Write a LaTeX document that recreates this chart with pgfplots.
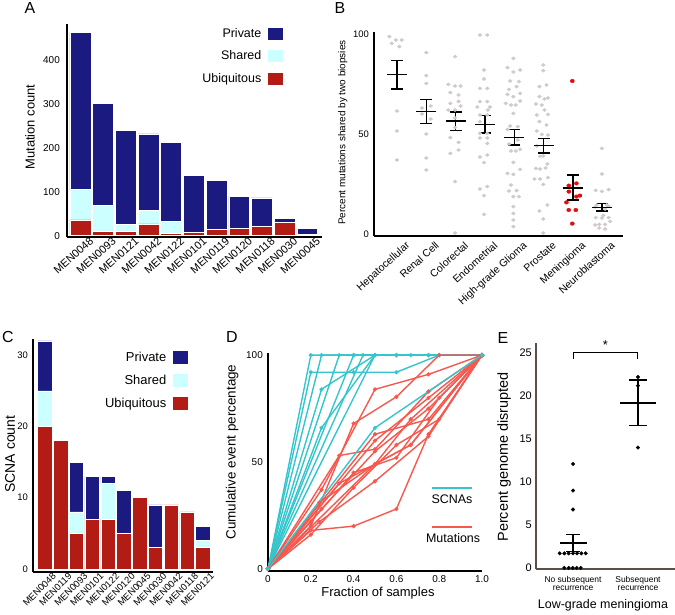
\documentclass[border=0pt]{standalone}
\usepackage{pgfplots}
\pgfplotsset{compat=1.18}
\usepackage{pgfplotstable}
\usepackage{fontspec}
\setmainfont{Liberation Sans}
\definecolor{navyP}{RGB}{27,26,128}
\definecolor{cyanS}{RGB}{204,255,255}
\definecolor{redU}{RGB}{178,28,20}
\definecolor{greyDot}{RGB}{208,202,202}
\definecolor{redDot}{RGB}{228,12,12}
\definecolor{cyanD}{RGB}{54,197,204}
\definecolor{redD}{RGB}{246,88,78}
\definecolor{axisE}{RGB}{90,80,72}
\newcommand{\fs}[1]{\fontsize{#1}{#1}\selectfont}
\pgfplotsset{
  base/.style={
    scale only axis,
    axis x line*=bottom, axis y line*=left,
    axis line style={-, line width=2bp, black},
    major tick length=0pt,
    /pgf/number format/assume math mode=true,
    tick label style={font=\fs{10}},
    yticklabel style={inner sep=0pt, xshift=-5bp},
    label style={font=\fs{13}},
    clip=false,
  },
  dline/.style={line width=1.4bp, mark=*, mark size=1.3bp},
}
% Panel A: ubiquitous, shared, private
\pgfplotstableread{
i u s p
0 36 69 358
1 10 59 232
2 10 16 213
3 27 31 174
4 5 28 179
5 7 0 131
6 14 0 112
7 17 0 73
8 21 0 65
9 30 0 9
10 0 3 13
}\Adata
\pgfplotstableread{
i u s p
0 20 5 7
1 18 0 0
2 5 3 7
3 7 0 6
4 7 5 1
5 5 0 6
6 10 0 0
7 3 0 6
8 9 0 0
9 8 0 0
10 3 1 2
}\Cdata
\pgfplotstableread{
x y ep em
1 79.6 7.0 7.1
2 61.1 6.0 5.8
3 56.4 4.5 4.8
4 54.6 4.5 4.2
5 48.2 3.9 3.8
6 44.2 3.4 3.8
7 23.0 6.5 6.1
8 13.2 2.0 1.8
}\Bmeans
\begin{document}
\begin{tikzpicture}[x=1bp,y=1bp]
\useasboundingbox (0bp,0bp) rectangle (675bp,615bp);
% ---------------- A
\begin{axis}[base, at={(67bp,378bp)}, anchor=south west, width=255bp, height=213bp,
  ybar stacked, bar width=0.92,
  xmin=-0.59, xmax=10.65, ymin=-3, ymax=482,
  xtick={0,...,10},
  xticklabels={MEN0048,MEN0093,MEN0121,MEN0042,MEN0122,MEN0101,MEN0119,MEN0120,MEN0118,MEN0030,MEN0045},
  xticklabel style={rotate=42, anchor=north east, inner sep=0pt, xshift=7bp, yshift=-5bp, font=\fs{11}},
  ytick={0,100,200,300,400},
  yticklabel style={xshift=-2bp},
  ylabel={Mutation count}, ylabel style={at={(axis description cs:-0.145,0.516)}, anchor=center},
  legend plot pos=right, reverse legend, legend cell align=right,
  legend style={draw=none, fill=none, inner sep=0pt, at={(0.847,0.99)}, anchor=north east, font=\fs{12.5}, row sep=8bp, column sep=5bp},
]
\addplot[fill=redU, draw=white, line width=0.5bp, legend image code/.code={\fill[redU] (0bp,-5.5bp) rectangle (14bp,5.5bp);}] table[x=i,y=u] {\Adata};
\addplot[fill=cyanS, draw=white, line width=0.5bp, legend image code/.code={\fill[cyanS] (0bp,-5.5bp) rectangle (14bp,5.5bp);}] table[x=i,y=s] {\Adata};
\addplot[fill=navyP, draw=white, line width=0.5bp, legend image code/.code={\fill[navyP] (0bp,-5.5bp) rectangle (14bp,5.5bp);}] table[x=i,y=p] {\Adata};
\legend{Ubiquitous,Shared,Private}
\end{axis}
% ---------------- B
\begin{axis}[base, at={(374bp,379bp)}, anchor=south west, width=249bp, height=204bp,
  xmin=0.215, xmax=8.71, ymin=-1, ymax=101,
  axis line style={line width=1.8bp},
  xtick={1,...,8},
  xticklabels={Hepatocellular,Renal Cell,Colorectal,Endometrial,High-grade Glioma,Prostate,Meningioma,Neuroblastoma},
  xticklabel style={rotate=42, anchor=north east, inner sep=0pt, xshift=3bp, yshift=-9bp, font=\fs{10.5}},
  ytick={0,50,100}, yticklabel style={font=\fs{9.5}},
  ylabel={Percent mutations shared by two biopsies},
  ylabel style={font=\fs{10}, at={(axis description cs:-0.125,0.507)}, anchor=center},
]
\addplot[only marks, greyDot, mark=*, mark size=1.6bp, mark options={draw=greyDot, fill=greyDot, xscale=1.2}] coordinates {
(0.74,98.7)(0.96,97)(1.16,97)(0.82,95.3)(1.08,93.7)(1.0,61.5)(1.0,51.5)(1.0,37)
(2,90.7)(2,79.2)(2,75.3)(1.85,63)(2.15,64)(2.15,57.5)(2,50)(2,38)(2,32)(1.85,60)
(2.98,88.7)(2.75,74.8)(2.98,74)(3.17,74)(2.82,70.7)(3.1,69.5)(2.82,65.3)(3.1,66.3)(2.75,62)(2.98,62)(3.17,64)(2.98,58)(2.98,53.2)(2.82,48.2)(3.1,45.8)(3.1,42)(2.82,40.3)(2.98,26.2)(2.98,0.5)
(3.83,99.5)(4.08,99.5)(3.97,82)(3.97,77.5)(3.83,72.8)(4.08,72.8)(3.83,66.2)(4.08,66.2)(3.74,63.5)(4.17,63.5)(3.83,59.5)(4.08,59.5)(3.83,56.2)(3.83,50.3)(4.08,50.3)(3.83,48)(4.08,48)(4.08,45.3)(3.83,38.5)(4.08,39.5)(3.97,35.7)(3.83,22.5)(4.08,23.7)(3.97,19.2)(3.97,9.8)(4.1,62)
(4.97,87.8)(4.77,83.2)(5.2,82)(4.97,81)(4.86,76.5)(5.16,76.2)(5.08,73.7)(4.82,72.3)(4.77,69.8)(4.97,68.7)(5.2,70.3)(5.2,66.5)(4.71,65.3)(4.89,64.5)(5.05,64.5)(4.97,60.3)(4.86,54)(5.12,53.7)(4.77,52.3)(4.89,41.5)(5.05,41.5)(5.2,42.3)(4.97,35.8)(4.77,30.3)(4.97,29.8)(5.2,32.3)(4.89,24.5)(4.82,21.5)(5.08,21.7)(4.97,18.7)(5.16,18.7)(4.97,13.7)(4.97,10.3)(4.97,7)(4.97,3.7)(4.82,45)(5.12,47)
(5.99,84.5)(5.99,81.7)(5.86,73.7)(6.1,74.5)(5.86,68.7)(6.15,68)(6.03,67.5)(5.74,65)(5.94,64.5)(6.03,62)(6.15,59.8)(5.77,59.5)(5.86,56.2)(6.1,54.5)(5.77,51.5)(6.15,49.5)(5.94,49.8)(5.99,39)(5.88,38.8)(5.74,32.8)(5.88,32.5)(6.07,33)(6.15,28.2)(5.88,27.5)(5.69,27.5)(5.99,24.8)(6.13,14.5)(5.86,11.5)(5.99,7.5)(5.99,0.5)(6.13,35)(5.77,44)
(7.99,42.8)(7.99,30)(7.78,21.8)(7.99,21.3)(8.22,22.2)(7.81,14.5)(8.16,14.5)(7.76,13.5)(8.22,13.8)(7.78,8.2)(8.04,9.3)(8.22,8.2)(7.76,4.5)(7.9,4.8)(8.1,4.8)(8.27,6.3)(7.9,3)(8.1,2.5)(7.99,8)(8.1,12.5)
};
\addplot[only marks, redDot, mark=*, mark size=1.8bp, mark options={draw=redDot, fill=redDot, xscale=1.15}] coordinates {
(6.98,76.5)(6.86,24.2)(7.12,25.3)(6.86,21.2)(7.12,18.7)(7.24,19.2)(6.78,15.8)(6.86,12)(7.1,12)(6.98,5.2)
};
\addplot[only marks, mark=-, mark size=10bp, mark options={line width=1.4bp, draw=black}, black,
  error bars/.cd, y dir=both, y explicit,
  error mark options={rotate=90, mark size=6bp, line width=1.4bp, draw=black},
  error bar style={line width=1.4bp, black}]
  table[x=x, y=y, y error plus=ep, y error minus=em] {\Bmeans};
\end{axis}
% ---------------- C
\begin{axis}[base, at={(33bp,43bp)}, anchor=south west, width=180bp, height=233bp,
  ybar stacked, bar width=0.92,
  axis line style={line width=2.2bp},
  xmin=-0.75, xmax=10.64, ymin=-0.42, ymax=32.26,
  xtick={0,...,10},
  xticklabels={MEN0048,MEN0119,MEN0093,MEN0101,MEN0122,MEN0120,MEN0045,MEN0030,MEN0042,MEN0118,MEN0121},
  xticklabel style={rotate=45, anchor=north east, inner sep=0pt, xshift=5bp, yshift=-5bp, font=\fs{9.5}},
  ytick={0,10,20,30}, yticklabel style={font=\fs{9.5}},
  ylabel={SCNA count}, ylabel style={font=\fs{14}, at={(axis description cs:-0.128,0.506)}, anchor=center},
  legend plot pos=right, reverse legend, legend cell align=right,
  legend style={draw=none, fill=none, inner sep=0pt, at={(0.861,0.953)}, anchor=north east, font=\fs{13}, row sep=8bp, column sep=5bp},
]
\addplot[fill=redU, draw=white, line width=0.5bp, legend image code/.code={\fill[redU] (0bp,-6bp) rectangle (14bp,6bp);}] table[x=i,y=u] {\Cdata};
\addplot[fill=cyanS, draw=white, line width=0.5bp, legend image code/.code={\fill[cyanS] (0bp,-6bp) rectangle (14bp,6bp);}] table[x=i,y=s] {\Cdata};
\addplot[fill=navyP, draw=white, line width=0.5bp, legend image code/.code={\fill[navyP] (0bp,-6bp) rectangle (14bp,6bp);}] table[x=i,y=p] {\Cdata};
\legend{Ubiquitous,Shared,Private}
\end{axis}
% ---------------- D
\begin{axis}[base, at={(268bp,44bp)}, anchor=south west, width=214bp, height=218bp,
  xmin=0, xmax=1, ymin=-1, ymax=101,
  axis line style={line width=1.3bp},
  xtick={0,0.2,0.4,0.6,0.8,1}, xticklabels={0,0.2,0.4,0.6,0.8,1.0},
  xticklabel style={yshift=-1bp},
  ytick={0,50,100},
  xlabel={Fraction of samples}, xlabel style={at={(axis description cs:0.514,-0.101)}, anchor=center},
  ylabel={Cumulative event percentage}, ylabel style={font=\fs{13.5}, at={(axis description cs:-0.168,0.546)}, anchor=center},
]
\addplot[cyanD, dline] coordinates {(0,0)(0.2,100)(0.4,100)(0.6,100)(0.8,100)(1,100)};
\addplot[cyanD, dline] coordinates {(0,0)(0.2,92)(0.4,92)(0.6,92)(0.8,100)(1,100)};
\addplot[cyanD, dline] coordinates {(0,0)(0.25,100)(0.5,100)(0.75,100)(1,100)};
\addplot[cyanD, dline] coordinates {(0,0)(0.333,100)(0.667,100)(1,100)};
\addplot[cyanD, dline] coordinates {(0,0)(0.25,84)(0.5,100)(0.75,100)(1,100)};
\addplot[cyanD, dline] coordinates {(0,0)(0.25,66)(0.5,100)(0.75,100)(1,100)};
\addplot[cyanD, dline] coordinates {(0,0)(0.5,100)(1,100)};
\addplot[cyanD, dline] coordinates {(0,0)(0.4,100)(0.6,100)(0.8,100)(1,100)};
\addplot[cyanD, dline] coordinates {(0,0)(0.444,100)(1,100)};
\addplot[redD, dline] coordinates {(0,0)(0.2,18)(0.4,20)(0.6,28)(0.75,63)(1,100)};
\addplot[redD, dline] coordinates {(0,0)(0.24,22)(0.5,41)(0.75,62)(1,100)};
\addplot[redD, dline] coordinates {(0,0)(0.24,31)(0.5,49)(0.667,58)(1,100)};
\addplot[redD, dline] coordinates {(0,0)(0.25,37)(0.5,84)(0.75,91)(1,100)};
\addplot[redD, dline] coordinates {(0,0)(0.2,20)(0.4,68)(0.6,80.5)(0.8,100)(1,100)};
\addplot[redD, dline] coordinates {(0,0)(0.333,53)(0.5,56)(0.75,83)(1,100)};
\addplot[redD, dline] coordinates {(0,0)(0.5,63)(0.75,70)(1,100)};
\addplot[redD, dline] coordinates {(0,0)(0.333,40)(0.667,58)(1,100)};
\addplot[redD, dline] coordinates {(0,0)(0.5,60)(0.75,80)(1,100)};
\addplot[redD, dline] coordinates {(0,0)(0.25,28)(0.5,55)(0.75,75)(1,100)};
\addplot[redD, dline] coordinates {(0,0)(0.2,22)(0.4,45)(0.6,52)(0.8,80)(1,100)};
\addplot[redD, dline] coordinates {(0,0)(0.2,16)(0.4,38)(0.6,58)(0.8,70)(1,100)};
\addplot[redD, dline] coordinates {(0,0)(0.5,49)(0.667,70)(1,100)};
\addplot[cyanD, dline] coordinates {(0,0)(0.5,66)(1,100)};
\draw[cyanD, line width=1.6bp] (axis cs:0.765,37.9) -- (axis cs:0.954,37.9);
\node[font=\fs{12.5}] at (axis cs:0.86,32.7) {SCNAs};
\draw[redD, line width=1.6bp] (axis cs:0.765,19.6) -- (axis cs:0.954,19.6);
\node[font=\fs{12.5}] at (axis cs:0.865,14.5) {Mutations};
\end{axis}
% ---------------- E
\begin{axis}[base, at={(536bp,46bp)}, anchor=south west, width=139bp, height=226bp,
  xmin=0.43, xmax=2.57, ymin=-0.12, ymax=26.16,
  axis line style={line width=1.3bp, axisE},
  xtick={1,2}, xticklabels={{No subsequent\\recurrence},{Subsequent\\recurrence}},
  xticklabel style={align=center, font=\fs{8.5}, inner sep=0pt, yshift=-7bp},
  ytick={0,5,10,15,20,25}, yticklabel style={font=\fs{11}, xshift=1bp},
  ylabel={Percent genome disrupted}, ylabel style={font=\fs{14.5}, at={(axis description cs:-0.23,0.496)}, anchor=center},
  xlabel={Low-grade meningioma}, xlabel style={font=\fs{12.5}, at={(axis description cs:0.482,-0.159)}, anchor=center},
]
\addplot[only marks, mark=*, mark size=1.8bp, black] coordinates {
(1,12.1)(1,9)(1,6.8)(0.795,1.7)(0.867,1.7)(0.933,1.7)(1,1.7)(1.062,1.7)(1.128,1.7)(1.195,1.7)
(0.866,0)(0.933,0)(0.995,0)(1.056,0)(1.118,0)
(2,22.2)(2,21.2)(2,14)};
\addplot[only marks, mark=-, mark size=13.5bp, mark options={line width=1.4bp, draw=black}, black,
  error bars/.cd, y dir=both, y explicit,
  error mark options={rotate=90, mark size=6.7bp, line width=1.4bp, draw=black},
  error bar style={line width=1.4bp, black}]
  coordinates {(1,2.9) +- (0,1.0)};
\addplot[only marks, mark=-, mark size=18bp, mark options={line width=1.4bp, draw=black}, black,
  error bars/.cd, y dir=both, y explicit,
  error mark options={rotate=90, mark size=8.7bp, line width=1.4bp, draw=black},
  error bar style={line width=1.4bp, black}]
  coordinates {(2,19.2) +- (0,2.65)};
\draw[line width=1bp] (axis cs:1,24.3) -- (axis cs:1,25.1) -- (axis cs:2,25.1) -- (axis cs:2,24.3);
\node[font=\fs{13}] at (axis cs:1.5,25.9) {*};
\end{axis}
% panel letters
\node[font=\fs{16}] at (30bp,607bp) {A};
\node[font=\fs{16}] at (340bp,607bp) {B};
\node[font=\fs{16}] at (8bp,278bp) {C};
\node[font=\fs{16}] at (232bp,278bp) {D};
\node[font=\fs{16}] at (503bp,277bp) {E};
\end{tikzpicture}
\end{document}
